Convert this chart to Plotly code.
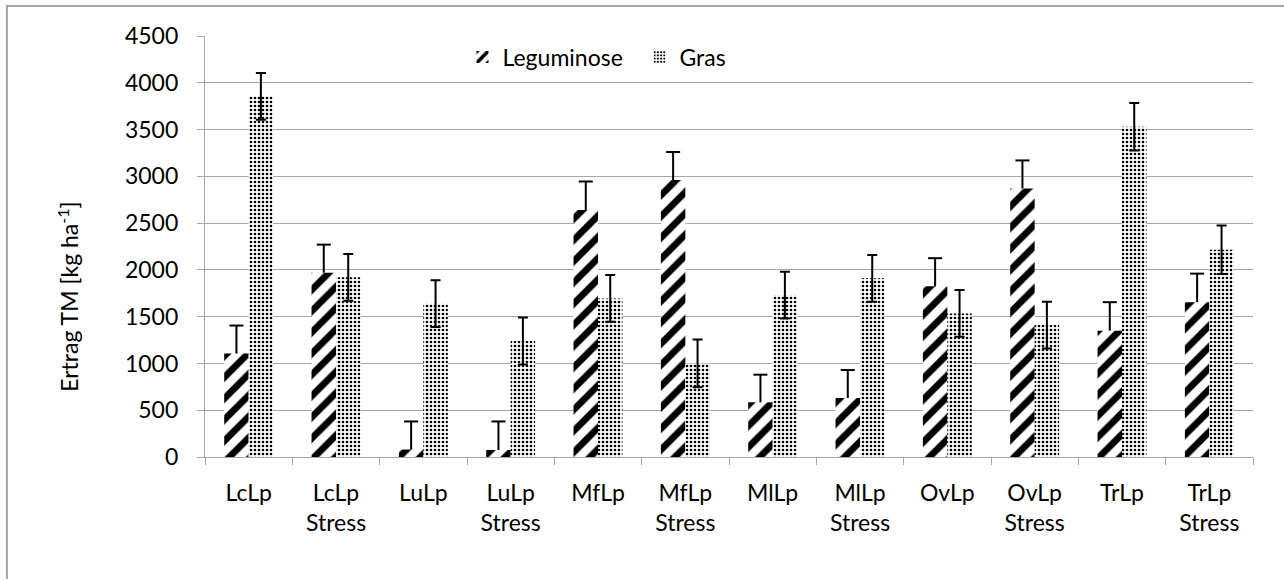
import plotly.graph_objects as go

categories = ["LcLp", "LcLp<br>Stress", "LuLp", "LuLp<br>Stress", "MfLp", "MfLp<br>Stress",
              "MlLp", "MlLp<br>Stress", "OvLp", "OvLp<br>Stress", "TrLp", "TrLp<br>Stress"]
leguminose = [1105, 1970, 80, 75, 2640, 2960, 585, 630, 1825, 2870, 1350, 1655]
leguminose_err = [300, 300, 300, 305, 305, 300, 295, 300, 300, 300, 305, 305]
gras = [3855, 1920, 1640, 1240, 1695, 1000, 1730, 1910, 1535, 1410, 3530, 2215]
gras_err = [250, 250, 250, 250, 250, 255, 250, 250, 250, 250, 255, 260]
y_ticks = [0, 500, 1000, 1500, 2000, 2500, 3000, 3500, 4000, 4500]
y_title = "Ertrag TM [kg ha<sup>-1</sup>]"

FONT = "Lato, 'Liberation Sans', sans-serif"
BARGAP = 0.44
leg_offset = (1 - BARGAP) / 4  # centre of first bar in a group, in category units

fig = go.Figure()
fig.add_trace(go.Bar(
    name="Leguminose", x=categories, y=leguminose, legend="legend",
    marker=dict(color="white", line=dict(width=0),
                pattern=dict(shape="/", fgcolor="black", bgcolor="white", fgopacity=1,
                             size=15, solidity=0.45)),
    error_y=dict(type="data", array=leguminose_err, symmetric=False, arrayminus=[0]*len(leguminose),
                 color="black", thickness=2, width=0),
))
fig.add_trace(go.Bar(
    name="Gras", x=categories, y=gras, legend="legend2",
    marker=dict(color="white", line=dict(width=0),
                pattern=dict(shape=".", fgcolor="black", bgcolor="white", fgopacity=1,
                             size=4, solidity=0.35)),
    error_y=dict(type="data", array=gras_err, color="black", thickness=2, width=5),
))
# caps for the upper-only legume error bars
fig.add_trace(go.Scatter(
    x=[i - leg_offset for i in range(len(categories))],
    y=[v + e for v, e in zip(leguminose, leguminose_err)],
    xaxis="x2", mode="markers", showlegend=False, hoverinfo="skip",
    marker=dict(symbol="line-ew", size=10, line=dict(color="black", width=2)),
))

fig.update_layout(
    width=1284, height=579,
    margin=dict(l=205, r=31, t=36, b=122),
    paper_bgcolor="white", plot_bgcolor="white",
    font=dict(family=FONT, size=23, color="black"),
    barmode="group", bargap=BARGAP, bargroupgap=0.0,
    legend=dict(orientation="h", x=0.2457, y=0.95, xanchor="left", yanchor="middle",
                bgcolor="rgba(0,0,0,0)", font=dict(size=23)),
    legend2=dict(orientation="h", x=0.4146, y=0.95, xanchor="left", yanchor="middle",
                 bgcolor="rgba(0,0,0,0)", font=dict(size=23)),
    xaxis2=dict(overlaying="x", range=[-0.5, len(categories) - 0.5], visible=False),
    shapes=[dict(type="rect", xref="paper", yref="paper",
                 x0=-0.189, x1=1.2, y0=-0.6, y1=1.071,
                 line=dict(color="#A6A6A6", width=2), fillcolor="rgba(0,0,0,0)", layer="below")],
    annotations=[dict(text=y_title, xref="paper", yref="paper", x=-0.131, y=0.38,
                      textangle=-90, showarrow=False, xanchor="center", yanchor="middle",
                      font=dict(size=23))],
)
fig.update_yaxes(
    range=[0, 4500], tickvals=y_ticks, ticktext=[str(v) for v in y_ticks],
    showgrid=True, gridcolor="#A6A6A6", gridwidth=1.3,
    showline=True, linecolor="#A6A6A6", linewidth=1.3,
    ticks="outside", ticklen=7, tickcolor="#A6A6A6", ticklabelstandoff=14,
    zeroline=False,
)
fig.layout.xaxis.update(showline=True, linecolor="#A6A6A6", linewidth=1.3,
                        ticks="outside", ticklen=7, tickcolor="#A6A6A6", tickson="boundaries",
                        ticklabelstandoff=15)

fig.write_html("out.html", config={"displayModeBar": False},
               post_script="document.body.style.margin='0';")
